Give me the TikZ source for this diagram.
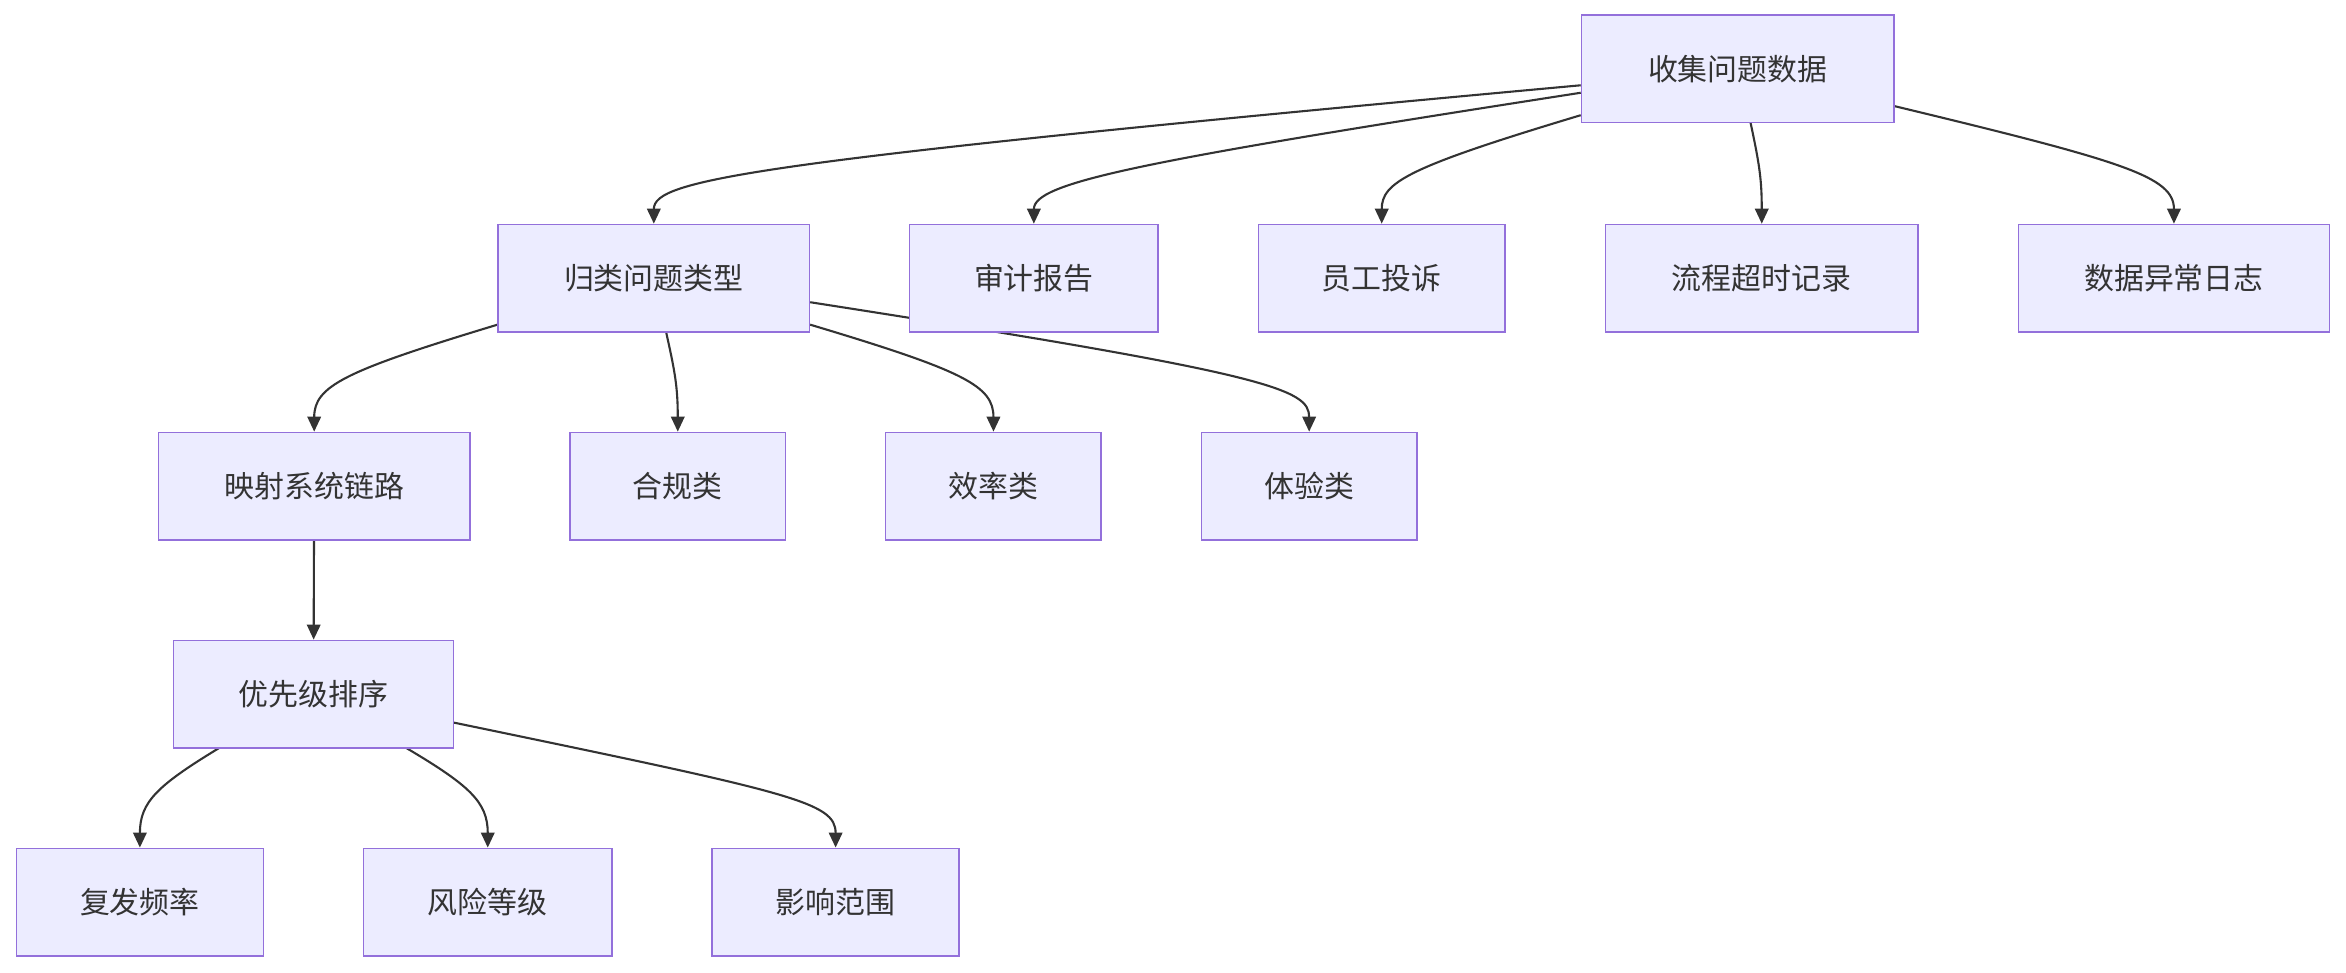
\documentclass[tikz,border=0pt]{standalone}
\usepackage{fontspec}
\setmainfont{Noto Sans CJK SC}
\usetikzlibrary{arrows.meta,backgrounds}
\definecolor{boxfill}{HTML}{ECECFF}
\definecolor{boxline}{HTML}{9370DB}
\definecolor{ink}{HTML}{333333}
\tikzset{
  stage/.style={draw=boxline, fill=boxfill, line width=1pt, text=ink, font=\fontsize{20}{24}\selectfont, minimum height=72pt, inner sep=0pt},
  link/.style={draw=ink, line width=1.4pt, -{Triangle[length=10pt,width=9pt]}}
}
\begin{document}
\begin{tikzpicture}[x=1pt,y=-1pt]
\useasboundingbox (0,0) rectangle (1568,650);
% Source
\node[stage, minimum width=209pt] (collect) at (1161.5,46) {收集问题数据};
% Second row
\node[stage, minimum width=208pt] (classify) at (437,186) {归类问题类型};
\node[stage, minimum width=166pt] (audit) at (691,186) {审计报告};
\node[stage, minimum width=165pt] (complain) at (923.5,186) {员工投诉};
\node[stage, minimum width=209pt] (timeout) at (1177.5,186) {流程超时记录};
\node[stage, minimum width=208pt] (anomaly) at (1453,186) {数据异常日志};
% Third row
\node[stage, minimum width=208pt] (mapping) at (210,325) {映射系统链路};
\node[stage, minimum width=144pt] (comply) at (453,325) {合规类};
\node[stage, minimum width=144pt] (effic) at (664,325) {效率类};
\node[stage, minimum width=144pt] (exper) at (875,325) {体验类};
% Priority
\node[stage, minimum width=187pt] (prio) at (209.5,464) {优先级排序};
\node[stage, minimum width=165pt] (recur) at (93.5,603) {复发频率};
\node[stage, minimum width=166pt] (risk) at (326,603) {风险等级};
\node[stage, minimum width=165pt] (scope) at (558.5,603) {影响范围};

\begin{scope}[on background layer]
\draw[link] (collect.west |- 0,57) .. controls (500,108) and (437,120) .. (classify.north);
\draw[link] (collect.west |- 0,62) .. controls (760,108) and (691,122) .. (audit.north);
\draw[link] (collect.west |- 0,77) .. controls (940,112) and (923.5,122) .. (complain.north);
\draw[link] (1170,82) .. controls (1176,110) and (1177.5,120) .. (timeout.north);
\draw[link] (collect.east |- 0,71) .. controls (1420,108) and (1453,118) .. (anomaly.north);
\draw[link] (classify.west |- 0,217) .. controls (230,248) and (210,258) .. (mapping.north);
\draw[link] (445,221) .. controls (451,248) and (453,258) .. (comply.north);
\draw[link] (classify.east |- 0,217) .. controls (645,248) and (664,258) .. (effic.north);
\draw[link] (classify.east |- 0,202) .. controls (850,250) and (875,260) .. (exper.north);
\draw[link] (mapping) -- (prio);
\draw[link] (148,499) .. controls (105,525) and (93.5,536) .. (recur.north);
\draw[link] (270,499) .. controls (314,525) and (326,536) .. (risk.north);
\draw[link] (prio.east |- 0,483) .. controls (530,530) and (558.5,536) .. (scope.north);
\end{scope}
\end{tikzpicture}
\end{document}
